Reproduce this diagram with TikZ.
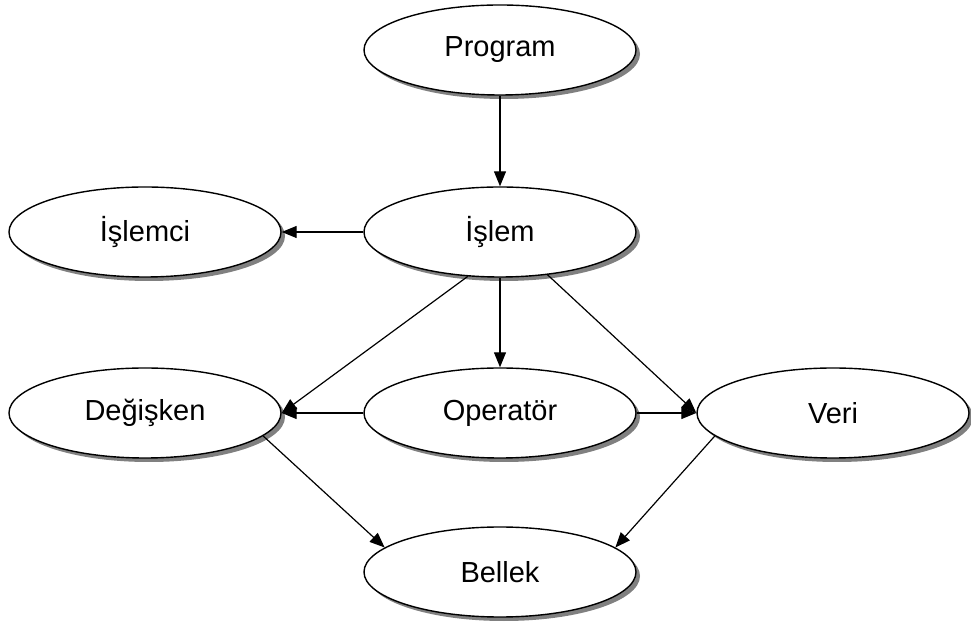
\documentclass[tikz,border=0pt]{standalone}
\usepackage{fontspec}
\setmainfont{Liberation Sans}
\usetikzlibrary{shapes.geometric,arrows.meta,shadows}
\begin{document}
\begin{tikzpicture}[x=1pt,y=1pt,
  box/.style={ellipse,draw,line width=1.4pt,fill=white,minimum width=272pt,minimum height=90pt,inner sep=0pt,
    font=\fontsize{29}{35}\selectfont,
    drop shadow={shadow xshift=4pt,shadow yshift=-4pt,fill=gray,opacity=1}},
  conn/.style={line width=1.2pt,-{Triangle[length=15pt,width=12pt]}}]
\useasboundingbox (0,0) rectangle (971,626);
\node[box] (program) at (500,576) {Program};
\node[box] (islem) at (500,394) {İşlem};
\node[box] (islemci) at (145,394) {İşlemci};
\node[box] (degisken) at (145,213) {Değişken};
\node[box] (operator) at (500,213) {Operatör};
\node[box] (veri) at (833,213) {Veri};
\node[box] (bellek) at (500,54) {Bellek};
\draw[conn] (program.south) -- (islem.north);
\draw[conn] (islem.west) -- (islemci.east);
\draw[conn] (islem.234) -- (degisken.east);
\draw[conn] (islem.south) -- (operator.north);
\draw[conn] (islem.318) -- (veri.west);
\draw[conn] (operator.west) -- (degisken.east);
\draw[conn] (operator.east) -- (veri.west);
\draw[conn] (degisken.349) -- (bellek.168);
\draw[conn] (veri.191) -- (bellek.12);
\end{tikzpicture}
\end{document}
